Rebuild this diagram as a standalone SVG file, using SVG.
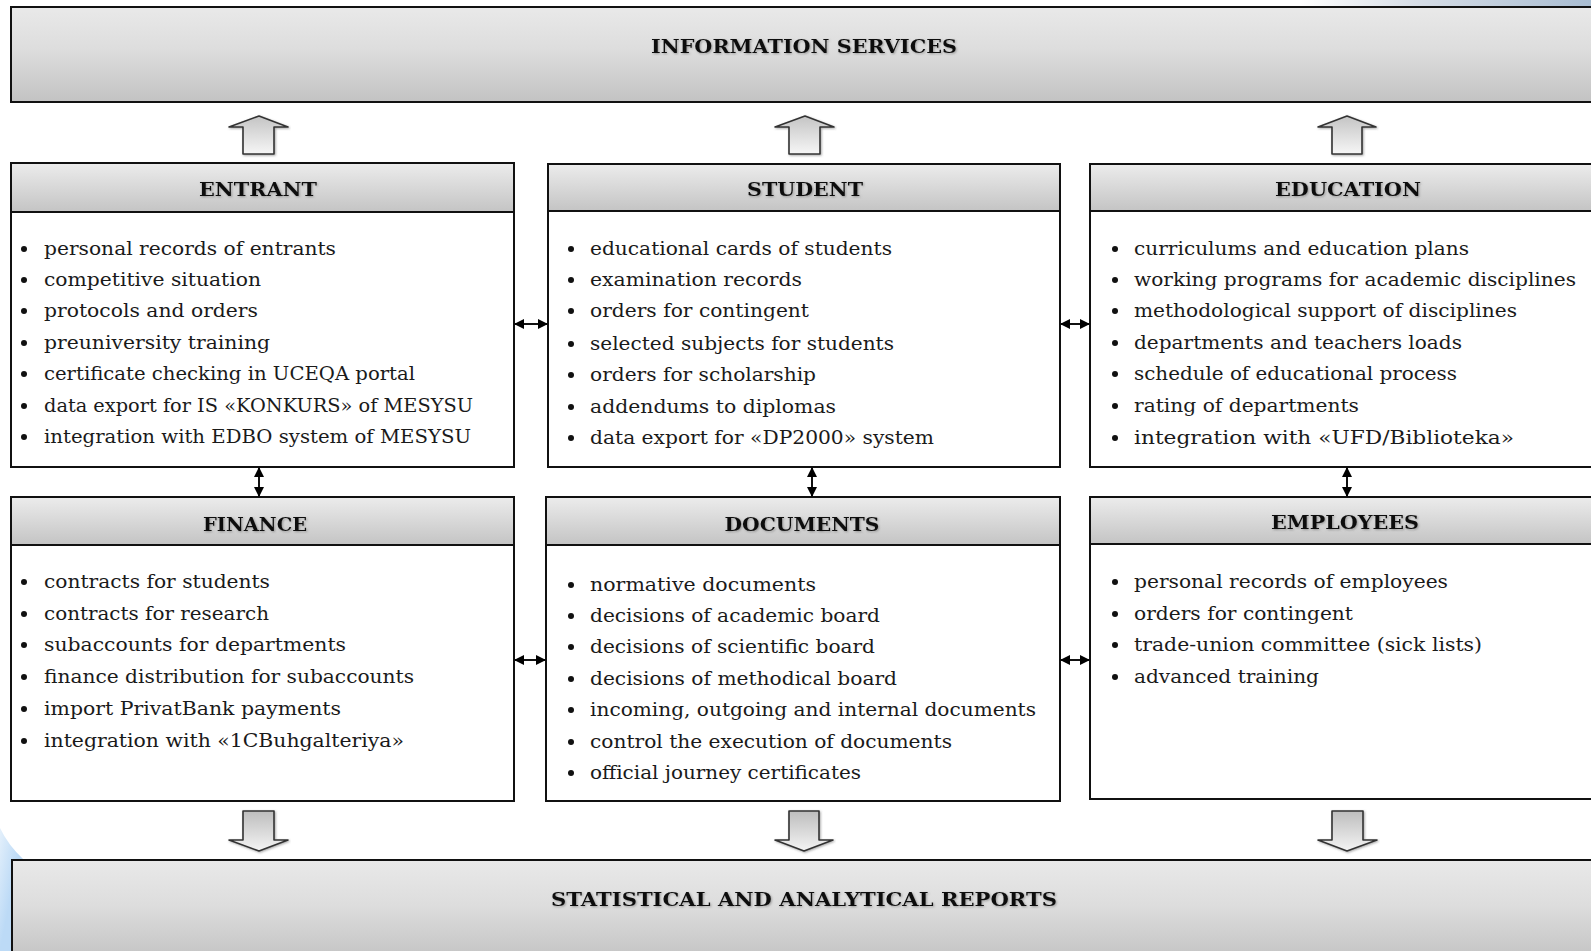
<svg xmlns="http://www.w3.org/2000/svg" width="1591" height="951" viewBox="0 0 1591 951">
<defs>
<linearGradient id="gBig" x1="0" y1="0" x2="0" y2="1"><stop offset="0" stop-color="#e9e9e9"/><stop offset="0.45" stop-color="#dddddd"/><stop offset="1" stop-color="#c3c3c3"/></linearGradient>
<linearGradient id="gHead" x1="0" y1="0" x2="0" y2="1"><stop offset="0" stop-color="#ececec"/><stop offset="1" stop-color="#c4c4c4"/></linearGradient>
<linearGradient id="gUp" x1="0" y1="0" x2="0" y2="1"><stop offset="0" stop-color="#c4c4c4"/><stop offset="1" stop-color="#f6f6f6"/></linearGradient>
<linearGradient id="gDown" x1="0" y1="0" x2="0" y2="1"><stop offset="0" stop-color="#bdbdbd"/><stop offset="1" stop-color="#f4f4f4"/></linearGradient>
<linearGradient id="gSky" x1="0" y1="0" x2="1" y2="0"><stop offset="0" stop-color="#ffffff"/><stop offset="0.4" stop-color="#d6dde6"/><stop offset="1" stop-color="#a9bdd2"/></linearGradient>
<linearGradient id="gBlob" x1="0" y1="0" x2="1" y2="1"><stop offset="0" stop-color="#e4f0fb"/><stop offset="0.5" stop-color="#bcdaf6"/><stop offset="1" stop-color="#bcdaf6"/></linearGradient>
<filter id="sh" x="-5%" y="-20%" width="110%" height="140%"><feDropShadow dx="1" dy="1" stdDeviation="0.8" flood-color="#555" flood-opacity="0.5"/></filter>
<marker id="ah" viewBox="0 0 10 10" refX="9" refY="5" markerWidth="10" markerHeight="10" markerUnits="userSpaceOnUse" orient="auto-start-reverse"><path d="M0,0 L10,5 L0,10 Z" fill="#000"/></marker>
</defs>
<style>
.big{fill:url(#gBig);stroke:#111;stroke-width:2}
.head{fill:url(#gHead);stroke:#111;stroke-width:2}
.body{fill:#fff;stroke:#111;stroke-width:2}
.ht{font-family:"DejaVu Serif","Liberation Serif",serif;font-weight:bold;font-size:19px;fill:#111;text-anchor:middle;filter:url(#sh)}
.t{font-family:"DejaVu Serif","Liberation Serif",serif;font-size:19px;fill:#1a1a1a}
.b{fill:#111}
.con{stroke:#111;stroke-width:2;fill:none;marker-start:url(#ah);marker-end:url(#ah)}
.ua{fill:url(#gUp);stroke:#333;stroke-width:1.6;stroke-linejoin:round;filter:url(#sh)}
.da{fill:url(#gDown);stroke:#333;stroke-width:1.6;stroke-linejoin:round;filter:url(#sh)}
</style>
<rect x="0" y="0" width="1591" height="951" fill="#fff"/>
<rect x="1300" y="0" width="291" height="8" fill="url(#gSky)"/>
<path d="M0,828 Q8,845 24,860 L12,860 L12,951 L0,951 Z" fill="url(#gBlob)"/>

<g id="information-services">
<rect class="big" x="11" y="7" width="1600" height="95"/>
<text class="ht" x="804" y="53" textLength="306" lengthAdjust="spacingAndGlyphs">INFORMATION SERVICES</text>
</g>

<g id="statistical-reports">
<rect class="big" x="12" y="860" width="1600" height="100"/>
<text class="ht" x="804" y="906" textLength="506" lengthAdjust="spacingAndGlyphs">STATISTICAL AND ANALYTICAL REPORTS</text>
</g>

<g id="block-arrows">
<polygon class="ua" points="259,116 288,127 274,127 274,154 243,154 243,127 229,127"/>
<polygon class="ua" points="805,116 834,127 820,127 820,154 789,154 789,127 775,127"/>
<polygon class="ua" points="1347,116 1376,127 1362,127 1362,154 1332,154 1332,127 1318,127"/>
<polygon class="da" points="243,811 274,811 274,840 288,840 259,851 229,840 243,840"/>
<polygon class="da" points="789,811 819,811 819,840 833,840 804,851 775,840 789,840"/>
<polygon class="da" points="1332,811 1363,811 1363,840 1377,840 1347,851 1318,840 1332,840"/>
</g>

<g id="entrant">
<rect class="body" x="11" y="163" width="503" height="304"/>
<rect class="head" x="11" y="163" width="503" height="49"/>
<text class="ht" x="258" y="196" textLength="118" lengthAdjust="spacingAndGlyphs">ENTRANT</text>
<g class="b"><circle cx="24" cy="249" r="3"/><circle cx="24" cy="280" r="3"/><circle cx="24" cy="311" r="3"/><circle cx="24" cy="343" r="3"/><circle cx="24" cy="374" r="3"/><circle cx="24" cy="406" r="3"/><circle cx="24" cy="437" r="3"/></g>
<text class="t" x="44" y="255" textLength="292" lengthAdjust="spacingAndGlyphs">personal records of entrants</text>
<text class="t" x="44" y="286" textLength="217" lengthAdjust="spacingAndGlyphs">competitive situation</text>
<text class="t" x="44" y="317" textLength="214" lengthAdjust="spacingAndGlyphs">protocols and orders</text>
<text class="t" x="44" y="349" textLength="226" lengthAdjust="spacingAndGlyphs">preuniversity training</text>
<text class="t" x="44" y="380" textLength="371" lengthAdjust="spacingAndGlyphs">certificate checking in UCEQA portal</text>
<text class="t" x="44" y="412" textLength="429" lengthAdjust="spacingAndGlyphs">data export for IS «KONKURS» of MESYSU</text>
<text class="t" x="44" y="443" textLength="427" lengthAdjust="spacingAndGlyphs">integration with EDBO system of MESYSU</text>
</g>

<g id="student">
<rect class="body" x="548" y="164" width="512" height="303"/>
<rect class="head" x="548" y="164" width="512" height="47"/>
<text class="ht" x="805" y="196" textLength="116" lengthAdjust="spacingAndGlyphs">STUDENT</text>
<g class="b"><circle cx="571" cy="249" r="3"/><circle cx="571" cy="280" r="3"/><circle cx="571" cy="311" r="3"/><circle cx="571" cy="344" r="3"/><circle cx="571" cy="375" r="3"/><circle cx="571" cy="407" r="3"/><circle cx="571" cy="438" r="3"/></g>
<text class="t" x="590" y="255" textLength="302" lengthAdjust="spacingAndGlyphs">educational cards of students</text>
<text class="t" x="590" y="286" textLength="212" lengthAdjust="spacingAndGlyphs">examination records</text>
<text class="t" x="590" y="317" textLength="219" lengthAdjust="spacingAndGlyphs">orders for contingent</text>
<text class="t" x="590" y="350" textLength="304" lengthAdjust="spacingAndGlyphs">selected subjects for students</text>
<text class="t" x="590" y="381" textLength="226" lengthAdjust="spacingAndGlyphs">orders for scholarship</text>
<text class="t" x="590" y="413" textLength="246" lengthAdjust="spacingAndGlyphs">addendums to diplomas</text>
<text class="t" x="590" y="444" textLength="344" lengthAdjust="spacingAndGlyphs">data export for «DP2000» system</text>
</g>

<g id="education">
<rect class="body" x="1090" y="164" width="520" height="303"/>
<rect class="head" x="1090" y="164" width="520" height="47"/>
<text class="ht" x="1348" y="196" textLength="146" lengthAdjust="spacingAndGlyphs">EDUCATION</text>
<g class="b"><circle cx="1115" cy="249" r="3"/><circle cx="1115" cy="280" r="3"/><circle cx="1115" cy="311" r="3"/><circle cx="1115" cy="343" r="3"/><circle cx="1115" cy="374" r="3"/><circle cx="1115" cy="406" r="3"/><circle cx="1115" cy="438" r="3"/></g>
<text class="t" x="1134" y="255" textLength="335" lengthAdjust="spacingAndGlyphs">curriculums and education plans</text>
<text class="t" x="1134" y="286" textLength="442" lengthAdjust="spacingAndGlyphs">working programs for academic disciplines</text>
<text class="t" x="1134" y="317" textLength="383" lengthAdjust="spacingAndGlyphs">methodological support of disciplines</text>
<text class="t" x="1134" y="349" textLength="328" lengthAdjust="spacingAndGlyphs">departments and teachers loads</text>
<text class="t" x="1134" y="380" textLength="323" lengthAdjust="spacingAndGlyphs">schedule of educational process</text>
<text class="t" x="1134" y="412" textLength="225" lengthAdjust="spacingAndGlyphs">rating of departments</text>
<text class="t" x="1134" y="444" textLength="380" lengthAdjust="spacingAndGlyphs">integration with «UFD/Biblioteka»</text>
</g>

<g id="finance">
<rect class="body" x="11" y="497" width="503" height="304"/>
<rect class="head" x="11" y="497" width="503" height="48"/>
<text class="ht" x="255" y="531" textLength="104" lengthAdjust="spacingAndGlyphs">FINANCE</text>
<g class="b"><circle cx="24" cy="582" r="3"/><circle cx="24" cy="614" r="3"/><circle cx="24" cy="645" r="3"/><circle cx="24" cy="677" r="3"/><circle cx="24" cy="709" r="3"/><circle cx="24" cy="741" r="3"/></g>
<text class="t" x="44" y="588" textLength="226" lengthAdjust="spacingAndGlyphs">contracts for students</text>
<text class="t" x="44" y="620" textLength="225" lengthAdjust="spacingAndGlyphs">contracts for research</text>
<text class="t" x="44" y="651" textLength="302" lengthAdjust="spacingAndGlyphs">subaccounts for departments</text>
<text class="t" x="44" y="683" textLength="370" lengthAdjust="spacingAndGlyphs">finance distribution for subaccounts</text>
<text class="t" x="44" y="715" textLength="297" lengthAdjust="spacingAndGlyphs">import PrivatBank payments</text>
<text class="t" x="44" y="747" textLength="360" lengthAdjust="spacingAndGlyphs">integration with «1CBuhgalteriya»</text>
</g>

<g id="documents">
<rect class="body" x="546" y="497" width="514" height="304"/>
<rect class="head" x="546" y="497" width="514" height="48"/>
<text class="ht" x="802" y="531" textLength="155" lengthAdjust="spacingAndGlyphs">DOCUMENTS</text>
<g class="b"><circle cx="571" cy="585" r="3"/><circle cx="571" cy="616" r="3"/><circle cx="571" cy="647" r="3"/><circle cx="571" cy="679" r="3"/><circle cx="571" cy="710" r="3"/><circle cx="571" cy="742" r="3"/><circle cx="571" cy="773" r="3"/></g>
<text class="t" x="590" y="591" textLength="226" lengthAdjust="spacingAndGlyphs">normative documents</text>
<text class="t" x="590" y="622" textLength="290" lengthAdjust="spacingAndGlyphs">decisions of academic board</text>
<text class="t" x="590" y="653" textLength="285" lengthAdjust="spacingAndGlyphs">decisions of scientific board</text>
<text class="t" x="590" y="685" textLength="307" lengthAdjust="spacingAndGlyphs">decisions of methodical board</text>
<text class="t" x="590" y="716" textLength="446" lengthAdjust="spacingAndGlyphs">incoming, outgoing and internal documents</text>
<text class="t" x="590" y="748" textLength="362" lengthAdjust="spacingAndGlyphs">control the execution of documents</text>
<text class="t" x="590" y="779" textLength="271" lengthAdjust="spacingAndGlyphs">official journey certificates</text>
</g>

<g id="employees">
<rect class="body" x="1090" y="497" width="520" height="302"/>
<rect class="head" x="1090" y="497" width="520" height="47"/>
<text class="ht" x="1345" y="529" textLength="148" lengthAdjust="spacingAndGlyphs">EMPLOYEES</text>
<g class="b"><circle cx="1115" cy="582" r="3"/><circle cx="1115" cy="614" r="3"/><circle cx="1115" cy="645" r="3"/><circle cx="1115" cy="677" r="3"/></g>
<text class="t" x="1134" y="588" textLength="314" lengthAdjust="spacingAndGlyphs">personal records of employees</text>
<text class="t" x="1134" y="620" textLength="219" lengthAdjust="spacingAndGlyphs">orders for contingent</text>
<text class="t" x="1134" y="651" textLength="348" lengthAdjust="spacingAndGlyphs">trade-union committee (sick lists)</text>
<text class="t" x="1134" y="683" textLength="185" lengthAdjust="spacingAndGlyphs">advanced training</text>
</g>

<g id="connectors">
<line class="con" x1="515" y1="324" x2="547" y2="324"/>
<line class="con" x1="1061" y1="324" x2="1089" y2="324"/>
<line class="con" x1="515" y1="660" x2="545" y2="660"/>
<line class="con" x1="1061" y1="660" x2="1089" y2="660"/>
<line class="con" x1="259" y1="468" x2="259" y2="496"/>
<line class="con" x1="812" y1="468" x2="812" y2="496"/>
<line class="con" x1="1347" y1="468" x2="1347" y2="496"/>
</g>
</svg>
